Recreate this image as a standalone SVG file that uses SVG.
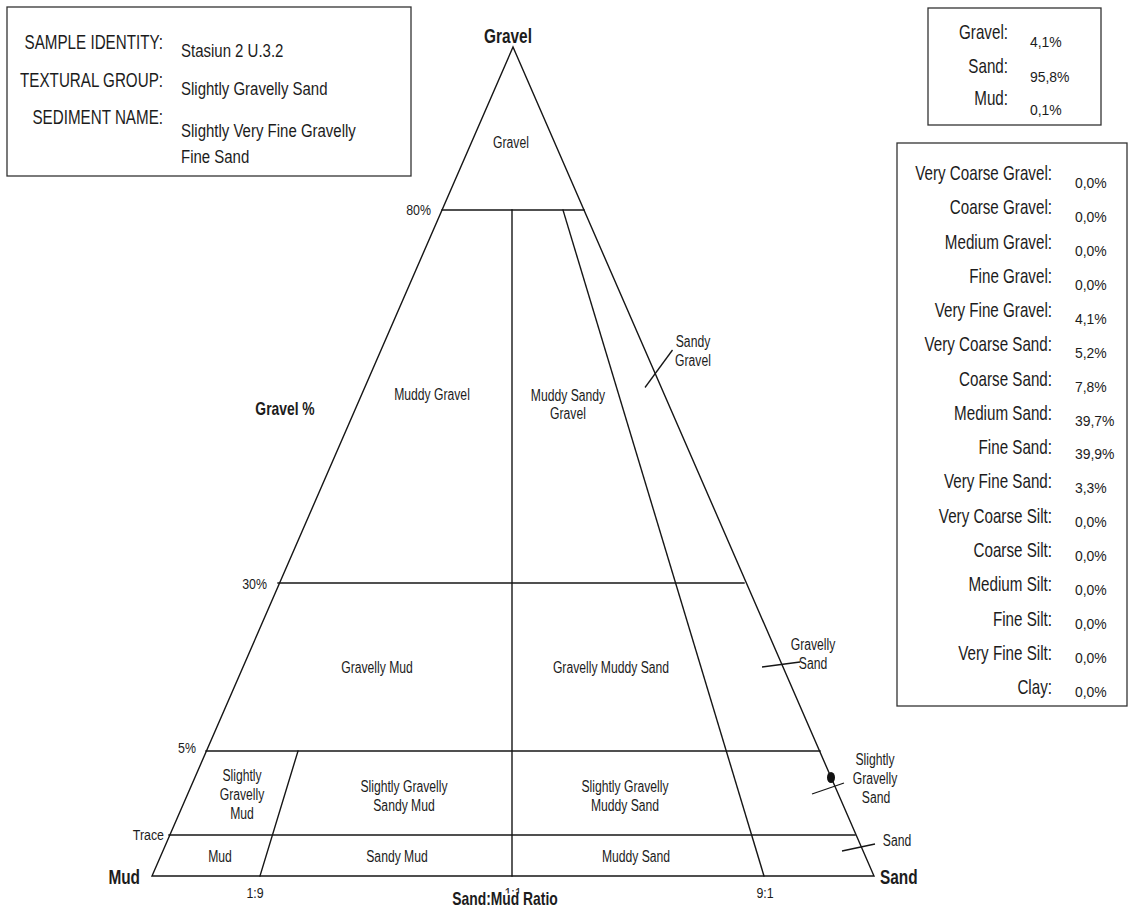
<svg xmlns="http://www.w3.org/2000/svg" width="1129" height="920" viewBox="0 0 1129 920">
<style>
text{font-family:"Liberation Sans",Arial,sans-serif;fill:#1c1c1c}
.ln{stroke:#161616;stroke-width:1.4;fill:none;stroke-linecap:square}
.tk{stroke:#161616;stroke-width:1.3;fill:none}
.bx{fill:#fff;stroke:#333;stroke-width:1.3}
.rg{font-size:16px;text-anchor:middle}
.lb{font-size:20px;text-anchor:end}
.vl{font-size:15px}
.cv{font-size:18.5px}
.bd{font-weight:bold}
.cn{font-size:20px}
.ax{font-size:15.5px}
.mid{text-anchor:middle}
.end{text-anchor:end}
</style>

<g id="info-box">
<rect class="bx" x="7" y="7" width="404" height="169"/>
<text class="lb" transform="translate(163,49) scale(.76,1)">SAMPLE IDENTITY:</text>
<text class="lb" transform="translate(163,87) scale(.76,1)">TEXTURAL GROUP:</text>
<text class="lb" transform="translate(163,124) scale(.76,1)">SEDIMENT NAME:</text>
<text class="cv" transform="translate(181,57) scale(.81,1)">Stasiun 2 U.3.2</text>
<text class="cv" transform="translate(181,95) scale(.81,1)">Slightly Gravelly Sand</text>
<text class="cv" transform="translate(181,137) scale(.81,1)">Slightly Very Fine Gravelly</text>
<text class="cv" transform="translate(181,163) scale(.81,1)">Fine Sand</text>
</g>

<g id="totals-box">
<rect class="bx" x="928" y="8" width="173" height="117"/>
<text class="lb" transform="translate(1008,39) scale(.76,1)">Gravel:</text>
<text class="lb" transform="translate(1008,73) scale(.76,1)">Sand:</text>
<text class="lb" transform="translate(1008,105) scale(.76,1)">Mud:</text>
<text class="vl" transform="translate(1030,47) scale(.93,1)">4,1%</text>
<text class="vl" transform="translate(1030,82) scale(.93,1)">95,8%</text>
<text class="vl" transform="translate(1030,115) scale(.93,1)">0,1%</text>
</g>

<g id="fractions-box">
<rect class="bx" x="897" y="143" width="230" height="563"/>
<text class="lb" transform="translate(1052,180) scale(.76,1)">Very Coarse Gravel:</text>
<text class="lb" transform="translate(1052,214.3) scale(.76,1)">Coarse Gravel:</text>
<text class="lb" transform="translate(1052,248.5) scale(.76,1)">Medium Gravel:</text>
<text class="lb" transform="translate(1052,282.8) scale(.76,1)">Fine Gravel:</text>
<text class="lb" transform="translate(1052,317.1) scale(.76,1)">Very Fine Gravel:</text>
<text class="lb" transform="translate(1052,351.4) scale(.76,1)">Very Coarse Sand:</text>
<text class="lb" transform="translate(1052,385.6) scale(.76,1)">Coarse Sand:</text>
<text class="lb" transform="translate(1052,419.9) scale(.76,1)">Medium Sand:</text>
<text class="lb" transform="translate(1052,454.2) scale(.76,1)">Fine Sand:</text>
<text class="lb" transform="translate(1052,488.4) scale(.76,1)">Very Fine Sand:</text>
<text class="lb" transform="translate(1052,522.7) scale(.76,1)">Very Coarse Silt:</text>
<text class="lb" transform="translate(1052,557) scale(.76,1)">Coarse Silt:</text>
<text class="lb" transform="translate(1052,591.2) scale(.76,1)">Medium Silt:</text>
<text class="lb" transform="translate(1052,625.5) scale(.76,1)">Fine Silt:</text>
<text class="lb" transform="translate(1052,659.8) scale(.76,1)">Very Fine Silt:</text>
<text class="lb" transform="translate(1052,694) scale(.76,1)">Clay:</text>
<text class="vl" transform="translate(1075,188.4) scale(.93,1)">0,0%</text>
<text class="vl" transform="translate(1075,222.3) scale(.93,1)">0,0%</text>
<text class="vl" transform="translate(1075,256.1) scale(.93,1)">0,0%</text>
<text class="vl" transform="translate(1075,290) scale(.93,1)">0,0%</text>
<text class="vl" transform="translate(1075,323.9) scale(.93,1)">4,1%</text>
<text class="vl" transform="translate(1075,357.8) scale(.93,1)">5,2%</text>
<text class="vl" transform="translate(1075,391.6) scale(.93,1)">7,8%</text>
<text class="vl" transform="translate(1075,425.5) scale(.93,1)">39,7%</text>
<text class="vl" transform="translate(1075,459.4) scale(.93,1)">39,9%</text>
<text class="vl" transform="translate(1075,493.2) scale(.93,1)">3,3%</text>
<text class="vl" transform="translate(1075,527.1) scale(.93,1)">0,0%</text>
<text class="vl" transform="translate(1075,561) scale(.93,1)">0,0%</text>
<text class="vl" transform="translate(1075,594.8) scale(.93,1)">0,0%</text>
<text class="vl" transform="translate(1075,628.7) scale(.93,1)">0,0%</text>
<text class="vl" transform="translate(1075,662.6) scale(.93,1)">0,0%</text>
<text class="vl" transform="translate(1075,697) scale(.93,1)">0,0%</text>
</g>

<g id="connectors">
<polygon class="ln" points="513,47 152,876 874,876"/>
<line class="ln" x1="442" y1="210" x2="584" y2="210"/>
<line class="ln" x1="278" y1="583" x2="744" y2="583"/>
<line class="ln" x1="206" y1="751" x2="820" y2="751"/>
<line class="ln" x1="169" y1="835" x2="855" y2="835"/>
<line class="ln" x1="512" y1="210" x2="512" y2="876"/>
<line class="ln" x1="260" y1="876" x2="298" y2="751"/>
<line class="ln" x1="764" y1="876" x2="563" y2="210"/>
<line class="tk" x1="645" y1="387.5" x2="672.5" y2="350"/>
<line class="tk" x1="762" y1="667" x2="800" y2="662"/>
<line class="tk" x1="812" y1="794" x2="844" y2="783"/>
<line class="tk" x1="842" y1="851" x2="875" y2="844"/>
</g>

<g id="sample-point">
<ellipse cx="831" cy="777.5" rx="4" ry="5.5" fill="#111"/>
</g>

<g id="corner-labels">
<text class="cn bd mid" transform="translate(508,43) scale(.77,1)">Gravel</text>
<text class="cn bd end" transform="translate(140,884) scale(.77,1)">Mud</text>
<text class="cn bd" transform="translate(880,884) scale(.77,1)">Sand</text>
</g>

<g id="axis-labels">
<text class="bd mid" font-size="18" transform="translate(285,415) scale(.77,1)">Gravel %</text>
<text class="ax end" transform="translate(431,215) scale(.8,1)">80%</text>
<text class="ax end" transform="translate(267,589) scale(.8,1)">30%</text>
<text class="ax end" transform="translate(196,753) scale(.8,1)">5%</text>
<text class="ax end" transform="translate(164,840) scale(.8,1)">Trace</text>
<text class="ax mid" transform="translate(255,898) scale(.8,1)">1:9</text>
<text class="ax mid" transform="translate(513,898) scale(.8,1)">1:1</text>
<text class="ax mid" transform="translate(765,898) scale(.8,1)">9:1</text>
<rect x="452" y="893.5" width="108" height="14" fill="#fff"/>
<text class="bd mid" font-size="18" transform="translate(505,905) scale(.77,1)">Sand:Mud Ratio</text>
</g>

<g id="region-gravel"><text class="rg" transform="translate(511,148) scale(.76,1)">Gravel</text></g>
<g id="region-muddy-gravel"><text class="rg" transform="translate(432,400) scale(.76,1)">Muddy Gravel</text></g>
<g id="region-muddy-sandy-gravel">
<text class="rg" transform="translate(568,401) scale(.76,1)">Muddy Sandy</text>
<text class="rg" transform="translate(568,419) scale(.76,1)">Gravel</text>
</g>
<g id="region-sandy-gravel">
<text class="rg" transform="translate(693,347) scale(.76,1)">Sandy</text>
<text class="rg" transform="translate(693,366) scale(.76,1)">Gravel</text>
</g>
<g id="region-gravelly-mud"><text class="rg" transform="translate(377,673) scale(.76,1)">Gravelly Mud</text></g>
<g id="region-gravelly-muddy-sand"><text class="rg" transform="translate(611,673) scale(.76,1)">Gravelly Muddy Sand</text></g>
<g id="region-gravelly-sand">
<text class="rg" transform="translate(813,650) scale(.76,1)">Gravelly</text>
<text class="rg" transform="translate(813,669) scale(.76,1)">Sand</text>
</g>
<g id="region-slightly-gravelly-mud">
<text class="rg" transform="translate(242,781) scale(.76,1)">Slightly</text>
<text class="rg" transform="translate(242,800) scale(.76,1)">Gravelly</text>
<text class="rg" transform="translate(242,819) scale(.76,1)">Mud</text>
</g>
<g id="region-slightly-gravelly-sandy-mud">
<text class="rg" transform="translate(404,792) scale(.76,1)">Slightly Gravelly</text>
<text class="rg" transform="translate(404,811) scale(.76,1)">Sandy Mud</text>
</g>
<g id="region-slightly-gravelly-muddy-sand">
<text class="rg" transform="translate(625,792) scale(.76,1)">Slightly Gravelly</text>
<text class="rg" transform="translate(625,811) scale(.76,1)">Muddy Sand</text>
</g>
<g id="region-slightly-gravelly-sand">
<text class="rg" transform="translate(875,765) scale(.76,1)">Slightly</text>
<text class="rg" transform="translate(875,784) scale(.76,1)">Gravelly</text>
<text class="rg" transform="translate(876,803) scale(.76,1)">Sand</text>
</g>
<g id="region-mud"><text class="rg" transform="translate(220,862) scale(.76,1)">Mud</text></g>
<g id="region-sandy-mud"><text class="rg" transform="translate(397,862) scale(.76,1)">Sandy Mud</text></g>
<g id="region-muddy-sand"><text class="rg" transform="translate(636,862) scale(.76,1)">Muddy Sand</text></g>
<g id="region-sand"><text class="rg" transform="translate(897,846) scale(.76,1)">Sand</text></g>
</svg>
